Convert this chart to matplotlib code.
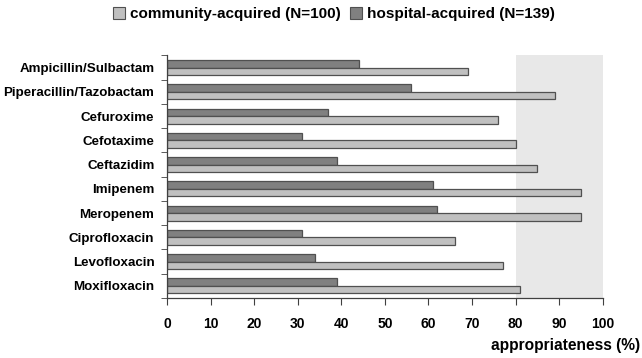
import numpy as np
import matplotlib.pyplot as plt
from matplotlib.patches import Patch

plt.rcParams['font.family'] = ['Liberation Sans', 'DejaVu Sans']
plt.rcParams['font.weight'] = 'bold'

# 数据
drugs = ['Ampicillin/Sulbactam', 'Piperacillin/Tazobactam', 'Cefuroxime', 'Cefotaxime',
         'Ceftazidim', 'Imipenem', 'Meropenem', 'Ciprofloxacin', 'Levofloxacin', 'Moxifloxacin']
community = [69, 89, 76, 80, 85, 95, 95, 66, 77, 81]
hospital = [44, 56, 37, 31, 39, 61, 62, 31, 34, 39]
x_ticks = list(range(0, 101, 10))
label_community = 'community-acquired (N=100)'
label_hospital = 'hospital-acquired (N=139)'

fig = plt.figure(figsize=(6.42, 3.58), dpi=100)
ax = fig.add_axes([0.260, 0.1676, 0.679, 0.6774])

y = np.arange(len(drugs))
h = 0.31
edge = '#505050'

# 背景阴影 80-100
ax.axvspan(80, 100, color='#e8e8e8', zorder=0, lw=0)

ax.barh(y - h / 2, hospital, height=h, color='#808080', edgecolor=edge, linewidth=0.9, zorder=2)
ax.barh(y + h / 2, community, height=h, color='#c0c0c0', edgecolor=edge, linewidth=0.9, zorder=2)

ax.set_ylim(len(drugs) - 0.5, -0.5)
ax.set_xlim(0, 100)

ax.set_yticks(y)
ax.set_yticklabels(drugs, fontsize=9.6, fontweight='bold')
ax.set_yticks(np.arange(len(drugs) + 1) - 0.5, minor=True)
ax.tick_params(axis='y', which='major', length=0, pad=9)
ax.tick_params(axis='y', which='minor', length=4, color='#404040', direction='out')

ax.set_xticks(x_ticks)
ax.set_xticklabels([str(t) for t in x_ticks], fontsize=10, fontweight='bold')
ax.tick_params(axis='x', length=5, color='#404040', direction='out', pad=9)

for s in ['top', 'right']:
    ax.spines[s].set_visible(False)
for s in ['left', 'bottom']:
    ax.spines[s].set_color('#404040')
    ax.spines[s].set_linewidth(0.9)

fig.text(0.997, 0.035, 'appropriateness (%)', ha='right', va='center', fontsize=11.2, fontweight='bold')

handles = [Patch(facecolor='#c0c0c0', edgecolor=edge, linewidth=0.8, label=label_community),
           Patch(facecolor='#808080', edgecolor=edge, linewidth=0.8, label=label_hospital)]
fig.legend(handles=handles, loc='center', bbox_to_anchor=(0.52, 0.96), ncol=2, frameon=False,
           handlelength=0.8, handleheight=0.8, handletextpad=0.3, columnspacing=0.6,
           prop={'size': 11, 'weight': 'bold'})

fig.savefig('out.png', dpi=100)
